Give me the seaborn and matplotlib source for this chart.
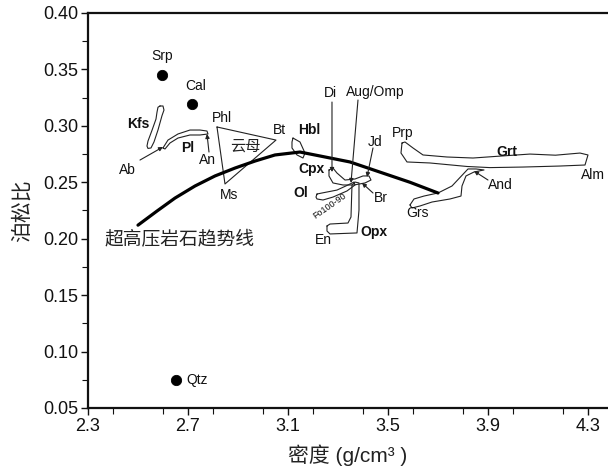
#!/usr/bin/env python3
# Poisson's ratio vs density of common rock-forming minerals,
# with the UHP rock trend line.

import matplotlib
matplotlib.use("Agg")
import matplotlib.pyplot as plt
from matplotlib.ticker import MultipleLocator, FormatStrFormatter
import seaborn as sns

# ── single minerals (dots) ───────────────────
dot_names = ["Srp", "Cal", "Qtz"]
dot_dens = [2.596, 2.716, 2.652]
dot_pois = [0.345, 0.319, 0.075]

# ── UHP rock trend line ──────────────────────
trend_dens = [2.50, 2.576, 2.648, 2.728, 2.808, 2.888, 2.968, 3.048,
              3.148, 3.228, 3.348, 3.468, 3.588, 3.70]
trend_pois = [0.212, 0.2245, 0.236, 0.2467, 0.2556, 0.2626, 0.2688, 0.2742,
              0.2768, 0.2733, 0.268, 0.259, 0.250, 0.2405]

# ── mineral fields (outlines) ────────────────
kfs_dens = [2.588, 2.600, 2.604, 2.596, 2.580, 2.564, 2.552, 2.540, 2.536, 2.540, 2.556, 2.572, 2.576, 2.580, 2.588]
kfs_pois = [0.3176, 0.3176, 0.3140, 0.3090, 0.2963, 0.2857, 0.2804, 0.2800, 0.2821, 0.2865, 0.2960, 0.3060, 0.3120, 0.3165, 0.3176]

pl_dens = [2.60, 2.62, 2.66, 2.708, 2.748, 2.776, 2.78, 2.748, 2.708, 2.66, 2.628, 2.608, 2.60]
pl_pois = [0.2804, 0.2874, 0.2928, 0.2963, 0.2963, 0.2954, 0.2928, 0.2919, 0.2919, 0.2892, 0.2848, 0.2795, 0.2804]

mica_dens = [2.816, 3.052, 2.848, 2.816]
mica_pois = [0.299, 0.2874, 0.2485, 0.299]

hbl_dens = [3.12, 3.148, 3.168, 3.16, 3.136, 3.116, 3.116, 3.12]
hbl_pois = [0.2892, 0.2857, 0.2759, 0.2715, 0.2742, 0.2804, 0.2857, 0.2892]

cpx_dens = [3.264, 3.28, 3.296, 3.328, 3.368, 3.40, 3.424, 3.432, 3.408, 3.364, 3.32, 3.28, 3.264, 3.264]
cpx_pois = [0.2609, 0.2626, 0.2582, 0.2520, 0.2529, 0.2556, 0.2556, 0.2520, 0.2494, 0.2476, 0.2476, 0.2494, 0.2556, 0.2609]

ol_dens = [3.216, 3.236, 3.296, 3.34, 3.364, 3.368, 3.336, 3.28, 3.24, 3.216, 3.212, 3.216]
ol_pois = [0.2396, 0.2405, 0.2431, 0.2476, 0.2502, 0.2476, 0.2423, 0.2369, 0.2343, 0.2352, 0.2369, 0.2396]

opx_dens = [3.256, 3.268, 3.34, 3.352, 3.356, 3.368, 3.384, 3.384, 3.376, 3.268, 3.256, 3.256]
opx_pois = [0.2113, 0.2130, 0.2139, 0.2192, 0.2476, 0.2502, 0.2494, 0.2254, 0.2051, 0.2042, 0.2068, 0.2113]

grt_dens = [3.556, 3.568, 3.60, 3.64, 3.736, 3.84, 3.936, 4.068, 4.17, 4.268, 4.30,
            4.288, 4.188, 4.04, 3.908, 3.816, 3.668, 3.576, 3.552, 3.556]
grt_pois = [0.2848, 0.2857, 0.2804, 0.2742, 0.2724, 0.2715, 0.2730, 0.2750, 0.2740, 0.2759, 0.2742,
            0.2653, 0.2644, 0.2635, 0.2630, 0.2640, 0.2671, 0.2680, 0.2759, 0.2848]

grs_dens = [3.588, 3.604, 3.644, 3.70, 3.756, 3.82, 3.852, 3.884, 3.844, 3.812, 3.796,
            3.792, 3.748, 3.676, 3.628, 3.596, 3.588]
grs_pois = [0.2299, 0.2352, 0.2378, 0.2405, 0.2467, 0.2618, 0.2618, 0.2609, 0.2591, 0.2556, 0.2467,
            0.2378, 0.2352, 0.2325, 0.2290, 0.2272, 0.2299]

fields = [(kfs_dens, kfs_pois), (pl_dens, pl_pois), (mica_dens, mica_pois),
          (hbl_dens, hbl_pois), (cpx_dens, cpx_pois), (ol_dens, ol_pois),
          (opx_dens, opx_pois), (grt_dens, grt_pois), (grs_dens, grs_pois)]

# ── leader lines: (from, to) ─────────────────
lead_names = ["Di", "Aug/Omp", "Jd", "Br", "Ab", "An", "And"]
lead_from_dens = [3.276, 3.38, 3.44, 3.44, 2.508, 2.784, 3.90]
lead_from_pois = [0.3211, 0.3229, 0.2804, 0.2405, 0.2697, 0.2768, 0.2520]
lead_to_dens = [3.276, 3.352, 3.416, 3.396, 2.60, 2.776, 3.844]
lead_to_pois = [0.2591, 0.2494, 0.2547, 0.2494, 0.2813, 0.2928, 0.2600]

# ── text labels ──────────────────────────────
lab_text = ["Srp", "Cal", "Qtz", "Kfs", "Ab", "Pl", "An", "Phl", "Bt", "Ms",
            "Hbl", "Di", "Aug/Omp", "Jd", "Cpx", "Ol", "Br", "En", "Opx",
            "Prp", "Grt", "Alm", "And", "Grs"]
lab_dens = [2.596, 2.732, 2.728, 2.50, 2.456, 2.70, 2.776, 2.836, 3.064, 2.864,
            3.184, 3.268, 3.448, 3.448, 3.196, 3.152, 3.472, 3.24, 3.444,
            3.56, 3.976, 4.32, 3.948, 3.62]
lab_pois = [0.362, 0.335, 0.075, 0.3016, 0.2609, 0.2804, 0.2697, 0.307, 0.2963, 0.2387,
            0.2963, 0.3291, 0.330, 0.2857, 0.2618, 0.2405, 0.236, 0.1989, 0.206,
            0.2937, 0.2768, 0.2564, 0.2476, 0.2228]
lab_bold = ["Kfs", "Pl", "Hbl", "Cpx", "Ol", "Opx", "Grt"]

sns.set_theme(style="ticks")
plt.rcParams["font.family"] = ["Liberation Sans", "Noto Sans CJK SC", "DejaVu Sans"]
plt.rcParams["axes.linewidth"] = 1.6

fig = plt.figure(figsize=(6.08, 4.71), dpi=100)
ax = fig.add_axes([0.1447, 0.1338, 0.8553, 0.8386])

for fx, fy in fields:
    sns.lineplot(x=fx, y=fy, sort=False, estimator=None, color="#222222",
                 lw=0.8, ax=ax)

sns.lineplot(x=trend_dens, y=trend_pois, sort=False, estimator=None,
             color="black", lw=2.3, ax=ax)

sns.scatterplot(x=dot_dens, y=dot_pois, color="black", s=55,
                edgecolor="black", ax=ax, zorder=5)

for name, x0, y0, x1, y1 in zip(lead_names, lead_from_dens, lead_from_pois,
                                lead_to_dens, lead_to_pois):
    ax.annotate("", xy=(x1, y1), xytext=(x0, y0),
                arrowprops=dict(arrowstyle="-|>", color="#222222", lw=0.8,
                                mutation_scale=6, shrinkA=0, shrinkB=0))

for t, x, y in zip(lab_text, lab_dens, lab_pois):
    ha = "left" if t == "Qtz" else "center"
    ax.text(x - (0.036 if t == "Qtz" else 0), y, t, ha=ha, va="center",
            fontsize=10, color="#111111",
            fontweight="bold" if t in lab_bold else "normal")

ax.text(3.268, 0.229, "Fo100-90", fontsize=6.5, rotation=35,
        ha="center", va="center", color="#111111")
ax.text(2.928, 0.2821, "云母", fontsize=11, ha="center", va="center",
        family=["Noto Sans CJK SC"], color="#222222")
ax.text(2.368, 0.199, "超高压岩石趋势线", fontsize=13.5, ha="left",
        va="center", family=["Noto Sans CJK SC"], color="#222222")

ax.set_xlim(2.3, 4.38)
ax.set_ylim(0.05, 0.40)
ax.xaxis.set_major_locator(MultipleLocator(0.4))
ax.xaxis.set_minor_locator(MultipleLocator(0.2))
ax.yaxis.set_major_locator(MultipleLocator(0.05))
ax.yaxis.set_minor_locator(MultipleLocator(0.025))
ax.xaxis.set_major_formatter(FormatStrFormatter("%.1f"))
ax.yaxis.set_major_formatter(FormatStrFormatter("%.2f"))
ax.tick_params(which="major", direction="out", length=5, width=1,
               labelsize=13, colors="#111111", pad=2)
ax.tick_params(which="minor", direction="out", length=4, width=0.8,
               colors="#111111")
ax.set_xticks([2.3, 2.7, 3.1, 3.5, 3.9, 4.3])

for side in ["left", "bottom", "top"]:
    ax.spines[side].set_color("#111111")
ax.spines["right"].set_visible(False)

ax.set_xlabel("密度 (g/cm³ )", fontsize=15, labelpad=7, color="#222222")
ax.set_ylabel("泊松比", fontsize=15, labelpad=8, color="#222222")

fig.savefig("out.png", dpi=100, facecolor="white")
